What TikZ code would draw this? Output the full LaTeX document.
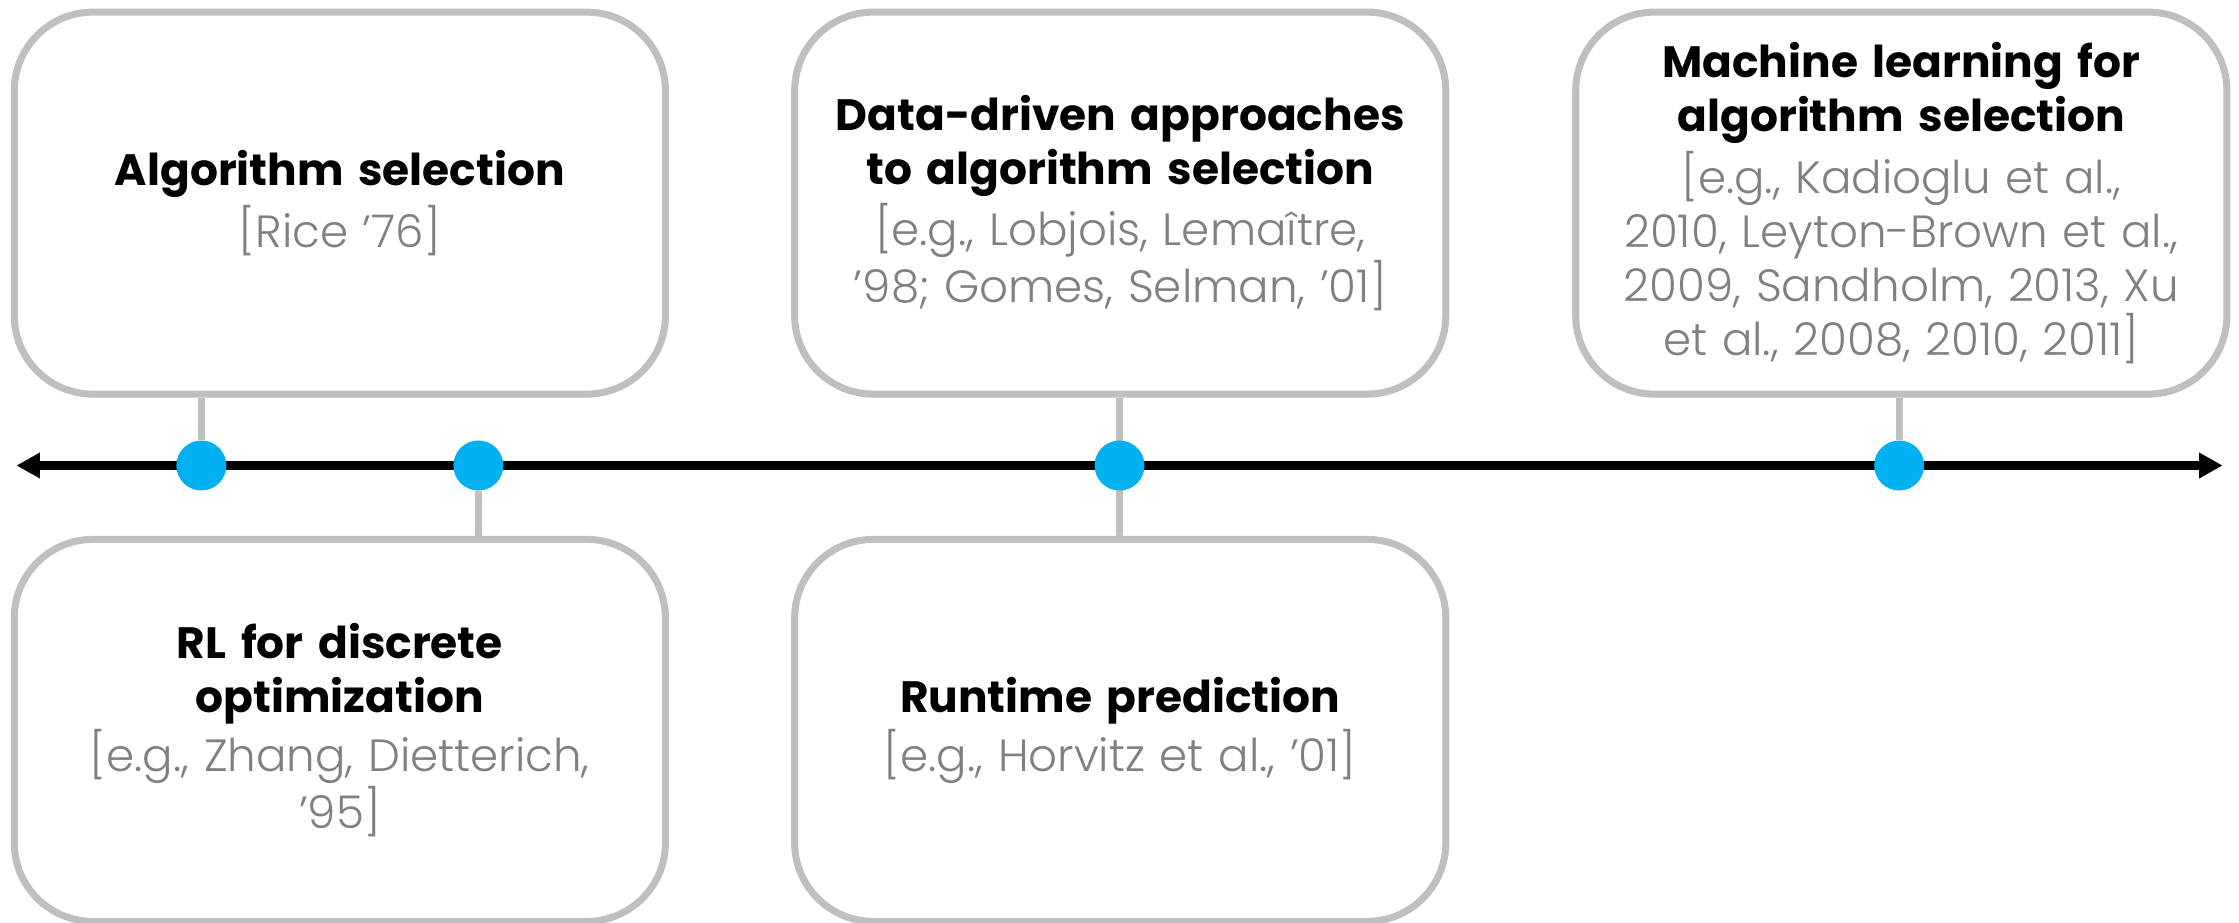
\documentclass[tikz,border=0pt]{standalone}
\usepackage{fontspec}
\setmainfont{Poppins}
\newfontfamily\lightfont{Poppins Light}
\usetikzlibrary{arrows.meta, positioning, backgrounds}

\definecolor{boxgray}{HTML}{BFBFBF}
\definecolor{refgray}{HTML}{808080}
\definecolor{dotblue}{HTML}{00B0F0}

\tikzset{
    topic/.style={draw=boxgray, line width=2.8pt, rounded corners=1.1cm,
        minimum width=9.12cm, minimum height=5.35cm, text width=8.9cm,
        align=center, inner sep=0pt, font=\fontsize{17.5}{21.5}\selectfont},
    year/.style={circle, fill=dotblue, minimum size=0.7cm, inner sep=0pt},
    stem/.style={draw=boxgray, line width=2.8pt},
    timeline/.style={line width=3.2pt,
        {Triangle[length=0.33cm,width=0.34cm]}-{Triangle[length=0.33cm,width=0.34cm]}}
}

% title in bold black, references in light gray
\newcommand{\ttl}[1]{{\bfseries #1}}
\newcommand{\refs}[1]{{\lightfont\fontsize{18}{21.5}\selectfont\color{refgray}#1}}

\begin{document}
\begin{tikzpicture}

\useasboundingbox (0,0) rectangle (31.36,12.92);

% Boxes above the time line
\node[topic] (sel) at (4.76,10.075)
    {\ttl{Algorithm selection}\\[2pt]\refs{[Rice ’76]}};
\node[topic] (data) at (15.69,10.075)
    {\ttl{Data-driven approaches\\to algorithm selection}\\[2pt]
     \refs{[e.g., Lobjois, Lemaître,\\’98; Gomes, Selman, ’01]}};
\node[topic] (ml) at (26.63,10.075)
    {\ttl{Machine learning for\\algorithm selection}\\[2pt]
     \refs{[e.g., Kadioglu et al.,\\2010, Leyton-Brown et al.,\\2009, Sandholm, 2013, Xu\\et al., 2008, 2010, 2011]}};

% Boxes below the time line
\node[topic] (rl) at (4.76,2.69)
    {\ttl{RL for discrete\\optimization}\\[2pt]
     \refs{[e.g., Zhang, Dietterich,\\’95]}};
\node[topic] (runtime) at (15.69,2.69)
    {\ttl{Runtime prediction}\\[2pt]\refs{[e.g., Horvitz et al., ’01]}};

% Dots on the time line
\node[year] (d-sel) at (2.82,6.4) {};
\node[year] (d-rl) at (6.7,6.4) {};
\node[year] (d-data) at (15.68,6.4) {};
\node[year] (d-ml) at (26.6,6.4) {};

\coordinate (t-start) at (0.23,6.4);
\coordinate (t-end) at (31.13,6.4);

\begin{scope}[on background layer]
    \draw[timeline] (t-start) -- (t-end);
    \draw[stem] (sel.south -| d-sel) -- (d-sel);
    \draw[stem] (d-rl) -- (rl.north -| d-rl);
    \draw[stem] (data.south -| d-data) -- (runtime.north -| d-data);
    \draw[stem] (ml.south -| d-ml) -- (d-ml);
\end{scope}

\end{tikzpicture}
\end{document}
